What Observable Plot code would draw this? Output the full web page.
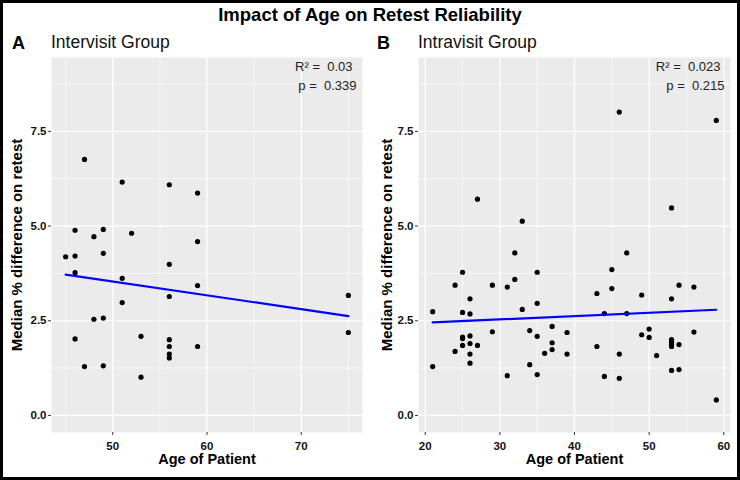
<!DOCTYPE html>
<html>
<head>
<meta charset="utf-8">
<script src="https://cdn.jsdelivr.net/npm/d3@7"></script>
<script src="https://cdn.jsdelivr.net/npm/@observablehq/plot@0.6"></script>
<style>
  html, body { margin: 0; padding: 0; background: #fff; }
  body { font-family: "Liberation Sans", Arial, sans-serif; }
  #page { position: relative; width: 740px; height: 480px; overflow: hidden; }
  #frame { position: absolute; left: 0; top: 0; width: 740px; height: 480px; box-sizing: border-box; border: 3px solid #000; pointer-events: none; }
  .txt { position: absolute; white-space: nowrap; color: #000; line-height: 1; }
  #title { left: 0; width: 740px; text-align: center; top: 6px; font-size: 18.5px; font-weight: bold; }
  .tag { font-size: 18px; font-weight: bold; top: 34px; }
  .ptitle { font-size: 17.5px; top: 34px; color: #111; }
  .panel { position: absolute; top: 50px; }
</style>
</head>
<body>
<div id="page">
  <div id="title" class="txt">Impact of Age on Retest Reliability</div>
  <div class="txt tag" style="left:12px">A</div>
  <div class="txt ptitle" style="left:51px">Intervisit Group</div>
  <div class="txt tag" style="left:377px">B</div>
  <div class="txt ptitle" style="left:418px">Intravisit Group</div>
  <div id="left" class="panel" style="left:0px"></div>
  <div id="right" class="panel" style="left:370px"></div>
  <div id="frame"></div>
</div>
<script>
// Panel A: Intervisit group
const interAge  = [47, 51, 56, 59, 46, 48, 49, 52, 59, 45, 46, 49, 56, 46, 51, 59, 75, 51, 56, 48, 49, 46, 53, 56, 56, 59, 56, 56, 75, 47, 49, 53];
const interDiff = [6.76, 6.16, 6.09, 5.87, 4.89, 4.72, 4.91, 4.81, 4.59, 4.19, 4.21, 4.28, 3.99, 3.77, 3.62, 3.43, 3.17, 2.98, 3.14, 2.54, 2.57, 2.02, 2.09, 2.00, 1.82, 1.82, 1.62, 1.52, 2.19, 1.29, 1.31, 1.01];

// Panel B: Intravisit group
const intraAge  = [27, 33, 46, 53, 59,
  21, 21, 24, 24, 25, 25, 25, 25, 25, 26, 26, 26, 26, 26, 26, 27, 29, 29, 31, 31,
  32, 32, 33, 34, 34, 35, 35, 35, 35, 36, 37, 37, 37, 39, 39, 43, 43, 44, 44, 45,
  45, 46, 46, 47, 47, 49, 49, 50, 50, 51, 53, 53, 53, 53, 53, 53, 54, 54, 54, 56, 56, 59];
const intraDiff = [5.71, 5.13, 8.01, 5.48, 7.79,
  2.74, 1.29, 3.44, 1.69, 3.78, 2.72, 2.07, 2.03, 1.85, 3.08, 2.68, 2.10, 1.90, 1.62, 1.38, 1.85, 3.44, 2.21, 3.39, 1.05,
  4.29, 3.59, 2.80, 2.24, 1.34, 3.78, 2.96, 2.09, 1.08, 1.64, 2.35, 1.92, 1.74, 2.19, 1.62, 3.22, 1.82, 2.69, 1.03, 3.85,
  3.35, 1.62, 0.98, 4.29, 2.69, 3.18, 2.13, 2.28, 2.06, 1.58, 3.08, 2.00, 1.93, 1.87, 1.82, 1.19, 3.44, 1.87, 1.21, 3.39, 2.20, 0.41];

const yTicks = [0, 2.5, 5, 7.5];
const yMinor = [1.25, 3.75, 6.25, 8.75];
const interXTicks = [50, 60, 70];
const interXMinor = [45, 55, 65, 75];
const intraXTicks = [20, 30, 40, 50, 60];
const intraXMinor = [25, 35, 45, 55];
const interStats = ["R² =  0.03", "p =  0.339"];
const intraStats = ["R² =  0.023", "p =  0.215"];
const xTitle = "Age of Patient";
const yTitle = "Median % difference on retest";

function panel({ages, diffs, xDomain, xTicks, xMinor, stats, marginLeft, marginRight}) {
  const data = ages.map((a, i) => ({age: a, diff: diffs[i]}));
  return Plot.plot({
    width: 370,
    height: 430,
    marginTop: 7,
    marginBottom: 48,
    marginLeft,
    marginRight,
    style: {fontFamily: "'Liberation Sans', Arial, sans-serif", background: "transparent", overflow: "visible"},
    x: {domain: xDomain, ticks: xTicks, label: null},
    y: {domain: [-0.45, 9.45], ticks: yTicks, label: null},
    marks: [
      Plot.frame({fill: "#EBEBEB", stroke: null}),
      Plot.gridX(xMinor, {stroke: "#fff", strokeOpacity: 1, strokeWidth: 0.6}),
      Plot.gridY(yMinor, {stroke: "#fff", strokeOpacity: 1, strokeWidth: 0.6}),
      Plot.gridX(xTicks, {stroke: "#fff", strokeOpacity: 1, strokeWidth: 1.2}),
      Plot.gridY(yTicks, {stroke: "#fff", strokeOpacity: 1, strokeWidth: 1.2}),
      Plot.axisX({ticks: xTicks, tickSize: 3, tickPadding: 6, fontSize: 11.5, fontWeight: "bold", stroke: "#333", fill: "#111", label: null}),
      Plot.axisY({ticks: yTicks, tickSize: 3, tickPadding: 2, tickFormat: d3.format(".1f"), fontSize: 11.5, fontWeight: "bold", stroke: "#333", fill: "#111", label: null}),
      Plot.dot(data, {x: "age", y: "diff", r: 2.6, fill: "#000", stroke: null}),
      Plot.linearRegressionY(data, {x: "age", y: "diff", stroke: "#0000FF", strokeWidth: 2.2, ci: 0}),
      Plot.text([stats[0]], {frameAnchor: "top-right", dx: -10, dy: 4, textAnchor: "end", lineAnchor: "top", fontSize: 13, fill: "#222"}),
      Plot.text([stats[1]], {frameAnchor: "top-right", dx: -6, dy: 23, textAnchor: "end", lineAnchor: "top", fontSize: 13, fill: "#222"}),
      Plot.text([xTitle], {frameAnchor: "bottom", dy: 31, textAnchor: "middle", fontSize: 14.5, fontWeight: "bold", fill: "#000"}),
      Plot.text([yTitle], {frameAnchor: "left", dx: -marginLeft + 17, textAnchor: "middle", rotate: -90, fontSize: 15, fontWeight: "bold", fill: "#000"})
    ]
  });
}

document.getElementById("left").append(panel({
  ages: interAge, diffs: interDiff, xDomain: [43.5, 76.5], xTicks: interXTicks, xMinor: interXMinor,
  stats: interStats, marginLeft: 51, marginRight: 8
}));
document.getElementById("right").append(panel({
  ages: intraAge, diffs: intraDiff, xDomain: [19.1, 60.9], xTicks: intraXTicks, xMinor: intraXMinor,
  stats: intraStats, marginLeft: 48, marginRight: 10
}));
</script>
</body>
</html>
